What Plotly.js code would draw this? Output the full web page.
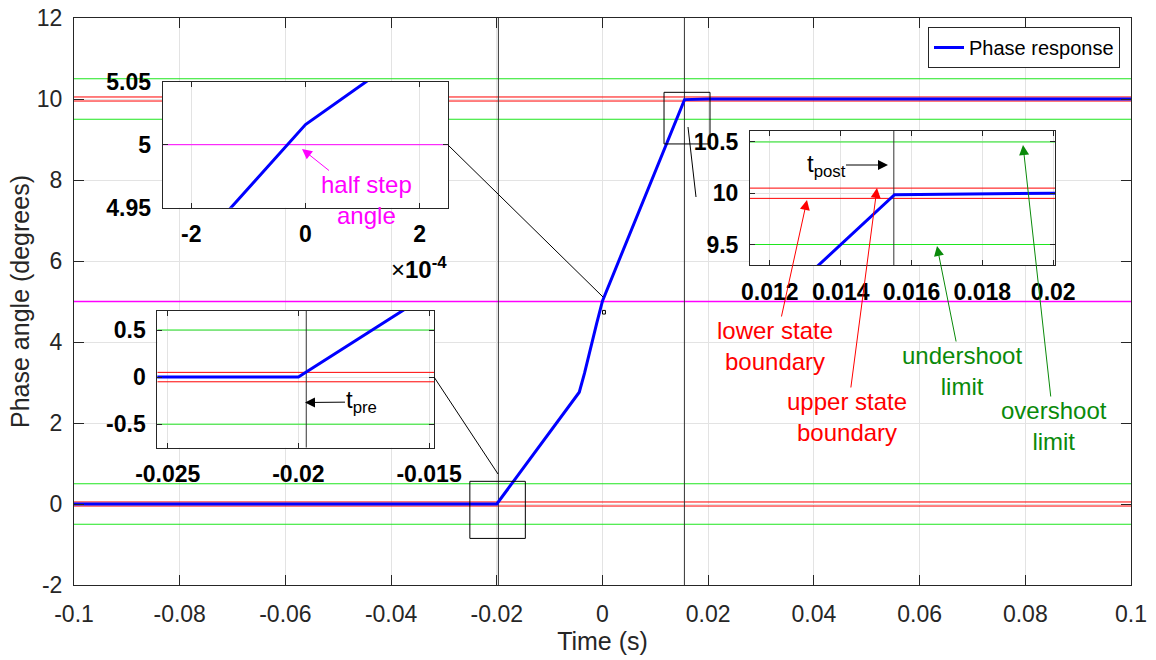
<!DOCTYPE html>
<html><head><meta charset="utf-8">
<script src="https://cdn.plot.ly/plotly-3.0.1.min.js"></script>
<style>html,body{margin:0;padding:0;background:#fff}#chart{width:1156px;height:660px}</style>
</head><body><div id="chart"></div>
<script>
// ---------------- data ----------------
const timeS    = [-0.1, -0.02, -0.0044, -0.0034, -0.0011, 0, 0.01552, 0.02, 0.1];
const phaseDeg = [0, 0, 2.76, 3.23, 4.46, 5.016, 9.985, 10.0, 10.0];
const stateBoundaries = [-0.05, 0.05, 9.95, 10.05];
const overshootLimits = [-0.5, 0.5, 9.5, 10.5];
const halfStepAngle = [5];
const tPre = [-0.0197];
const tPost = [0.0155];

const mainRangeX = [-0.1, 0.1], mainRangeY = [-2, 12];
const xTickVals = [-0.1, -0.08, -0.06, -0.04, -0.02, 0, 0.02, 0.04, 0.06, 0.08, 0.1];
const xTickText = ['-0.1', '-0.08', '-0.06', '-0.04', '-0.02', '0', '0.02', '0.04', '0.06', '0.08', '0.1'];
const yTickVals = [-2, 0, 2, 4, 6, 8, 10, 12];
const yTickText = ['-2', '0', '2', '4', '6', '8', '10', '12'];

const halfRangeX = [-2.5e-4, 2.5e-4], halfRangeY = [4.95, 5.05];
const halfXTicks = [-2e-4, 0, 2e-4], halfXText = ['-2', '0', '2'];
const halfYTicks = [4.95, 5, 5.05], halfYText = ['4.95', '5', '5.05'];

const preRangeX = [-0.0254, -0.0148], preRangeY = [-0.75, 0.705];
const preXTicks = [-0.025, -0.02, -0.015], preXText = ['-0.025', '-0.02', '-0.015'];
const preYTicks = [-0.5, 0, 0.5], preYText = ['-0.5', '0', '0.5'];

const postRangeX = [0.01144, 0.02005], postRangeY = [9.3, 10.61];
const postXTicks = [0.012, 0.014, 0.016, 0.018, 0.02], postXText = ['0.012', '0.014', '0.016', '0.018', '0.02'];
const postYTicks = [9.5, 10, 10.5], postYText = ['9.5', '10', '10.5'];

// zoom boxes drawn in main axes: [x0, x1, y0, y1]
const preBox  = [-0.0251, -0.0146, -0.85, 0.56];
const postBox = [0.01164, 0.02034, 8.89, 10.165];
const halfBox = [0.0, 0.00055, 4.69, 4.78];

// ---------------- layout helpers ----------------
const W = 1156, H = 660, ML = 74, MR = 25, MT = 18, MB = 75;
const PW = W - ML - MR, PH = H - MT - MB;
const fx = px => (px - ML) / PW;
const fy = py => (H - MB - py) / PH;
const FONT = '"Liberation Sans", Arial, Helvetica, sans-serif';
const AX = '#262626';

function baseAxis(extra) {
  return Object.assign({
    showline: true, linecolor: AX, linewidth: 1, mirror: 'ticks',
    ticks: 'inside', tickcolor: AX, tickwidth: 1,
    showgrid: true, gridcolor: '#e3e3e3', gridwidth: 1, zeroline: false,
    tickmode: 'array', fixedrange: true
  }, extra);
}
const mainTick = {family: FONT, size: 23, color: AX};
const insetTick = {family: FONT, size: 23, color: '#000', weight: 'bold'};

const RED = '#ff0000', GREEN = '#1ee61e', MAG = '#ff00ff', DKGREEN = '#0a8a0a', VCOL = '#333333';
const traces = [];
function hlineTraces(vals, xr, yr, xa, ya, color, w) {
  vals.forEach(v => {
    if (v < yr[0] || v > yr[1]) return;
    traces.push({x: xr, y: [v, v], type: 'scatter', mode: 'lines', line: {color: color, width: w || 1},
      showlegend: false, hoverinfo: 'skip', xaxis: xa, yaxis: ya});
  });
}
function vlineTraces(vals, yr, xa, ya) {
  vals.forEach(v => traces.push({x: [v, v], y: yr, type: 'scatter', mode: 'lines',
    line: {color: VCOL, width: 1}, showlegend: false, hoverinfo: 'skip', xaxis: xa, yaxis: ya}));
}
const blue = {color: '#0000ff', width: 3};
// main axes
hlineTraces(overshootLimits, mainRangeX, mainRangeY, 'x', 'y', GREEN);
hlineTraces(stateBoundaries, mainRangeX, mainRangeY, 'x', 'y', RED);
hlineTraces(halfStepAngle, mainRangeX, mainRangeY, 'x', 'y', MAG, 1.3);
vlineTraces(tPre, mainRangeY, 'x', 'y');
vlineTraces(tPost, mainRangeY, 'x', 'y');
traces.push({x: timeS, y: phaseDeg, type: 'scatter', mode: 'lines', line: blue, name: 'Phase response', xaxis: 'x', yaxis: 'y'});
// inset: half step
hlineTraces(halfStepAngle, halfRangeX, halfRangeY, 'x2', 'y2', MAG);
traces.push({x: timeS, y: phaseDeg, type: 'scatter', mode: 'lines', line: blue, showlegend: false, xaxis: 'x2', yaxis: 'y2'});
// inset: pre
hlineTraces(overshootLimits, preRangeX, preRangeY, 'x3', 'y3', GREEN);
hlineTraces(stateBoundaries, preRangeX, preRangeY, 'x3', 'y3', RED);
vlineTraces(tPre, preRangeY, 'x3', 'y3');
traces.push({x: timeS, y: phaseDeg, type: 'scatter', mode: 'lines', line: blue, showlegend: false, xaxis: 'x3', yaxis: 'y3'});
// inset: post
hlineTraces(overshootLimits, postRangeX, postRangeY, 'x4', 'y4', GREEN);
hlineTraces(stateBoundaries, postRangeX, postRangeY, 'x4', 'y4', RED);
vlineTraces(tPost, postRangeY, 'x4', 'y4');
traces.push({x: timeS, y: phaseDeg, type: 'scatter', mode: 'lines', line: blue, showlegend: false, xaxis: 'x4', yaxis: 'y4'});

const shapes = [];
// zoom boxes
[preBox, postBox, halfBox].forEach(b => shapes.push({type: 'rect', xref: 'x', yref: 'y',
  x0: b[0], x1: b[1], y0: b[2], y1: b[3], line: {color: '#000', width: 1}, layer: 'above'}));
// connector lines (pixel positions -> paper)
function pline(x0, y0, x1, y1) {
  shapes.push({type: 'line', xref: 'paper', yref: 'paper', x0: fx(x0), y0: fy(y0), x1: fx(x1), y1: fy(y1),
    line: {color: '#000', width: 1}, layer: 'above'});
}
pline(448, 145, 603, 297);
pline(434, 377, 498, 474);
pline(688, 127, 696, 197);

// annotations: text with arrow (head at hx,hy; text centre at cx,cy)
const annotations = [];
function note(hx, hy, cx, cy, text, color) {
  annotations.push({xref: 'paper', yref: 'paper', x: fx(hx), y: fy(hy), ax: cx - hx, ay: cy - hy,
    text: text, showarrow: true, arrowhead: 2, arrowsize: 2, arrowwidth: 1, arrowcolor: color,
    standoff: 0, startstandoff: 0, align: 'center', borderpad: 0,
    font: {family: FONT, size: 24, color: color}});
}
note(302, 149, 366, 200, 'half step<br>angle', MAG);
note(305, 402.5, 361, 402, 't<sub>pre</sub>', '#000');
note(888, 165, 826, 165, 't<sub>post</sub>', '#000');
note(807, 200, 775, 346, 'lower state<br>boundary', RED);
note(877, 188, 847, 417, 'upper state<br>boundary', RED);
note(937, 246, 962, 371, 'undershoot<br>limit', DKGREEN);
note(1023, 145, 1054, 426, 'overshoot<br>limit', DKGREEN);
// exponent label of the half-step inset x axis
annotations.push({xref: 'paper', yref: 'paper', x: fx(449), y: fy(268), xanchor: 'right', yanchor: 'middle',
  text: '×<b>10<sup>-4</sup></b>', showarrow: false, font: {family: FONT, size: 24, color: '#000'}});

const layout = {
  width: W, height: H, margin: {l: ML, r: MR, t: MT, b: MB},
  paper_bgcolor: '#fff', plot_bgcolor: '#fff',
  font: {family: FONT, color: AX},
  showlegend: true,
  legend: {x: fx(928), y: fy(27), xanchor: 'left', yanchor: 'top', bgcolor: '#fff',
    bordercolor: AX, borderwidth: 1, font: {family: FONT, size: 20, color: '#000'}},
  xaxis: baseAxis({range: mainRangeX, tickvals: xTickVals, ticktext: xTickText, ticklen: 10,
    tickfont: mainTick, ticklabelstandoff: 8,
    title: {text: 'Time (s)', font: {family: FONT, size: 25, color: AX}, standoff: 6}}),
  yaxis: baseAxis({range: mainRangeY, tickvals: yTickVals, ticktext: yTickText, ticklen: 10,
    tickfont: mainTick, ticklabelstandoff: 6,
    title: {text: 'Phase angle (degrees)', font: {family: FONT, size: 25, color: AX}, standoff: 0}}),
  xaxis2: baseAxis({domain: [fx(162.7), fx(448.3)], anchor: 'y2', range: halfRangeX,
    tickvals: halfXTicks, ticktext: halfXText, ticklen: 5, tickfont: insetTick, ticklabelstandoff: 6}),
  yaxis2: baseAxis({domain: [fy(207.7), fy(81.7)], anchor: 'x2', range: halfRangeY,
    tickvals: halfYTicks, ticktext: halfYText, ticklen: 5, tickfont: insetTick, ticklabelstandoff: 6}),
  xaxis3: baseAxis({domain: [fx(157.3), fx(434.3)], anchor: 'y3', range: preRangeX,
    tickvals: preXTicks, ticktext: preXText, ticklen: 5, tickfont: insetTick, ticklabelstandoff: 6}),
  yaxis3: baseAxis({domain: [fy(447.7), fy(310.7)], anchor: 'x3', range: preRangeY,
    tickvals: preYTicks, ticktext: preYText, ticklen: 5, tickfont: insetTick, ticklabelstandoff: 6}),
  xaxis4: baseAxis({domain: [fx(750), fx(1055)], anchor: 'y4', range: postRangeX,
    tickvals: postXTicks, ticktext: postXText, ticklen: 5, tickfont: insetTick, ticklabelstandoff: 6}),
  yaxis4: baseAxis({domain: [fy(265), fy(130.7)], anchor: 'x4', range: postRangeY,
    tickvals: postYTicks, ticktext: postYText, ticklen: 5, tickfont: insetTick, ticklabelstandoff: 6}),
  shapes: shapes,
  annotations: annotations
};

Plotly.newPlot('chart', traces, layout, {displayModeBar: false, staticPlot: true});
</script>
</body></html>
